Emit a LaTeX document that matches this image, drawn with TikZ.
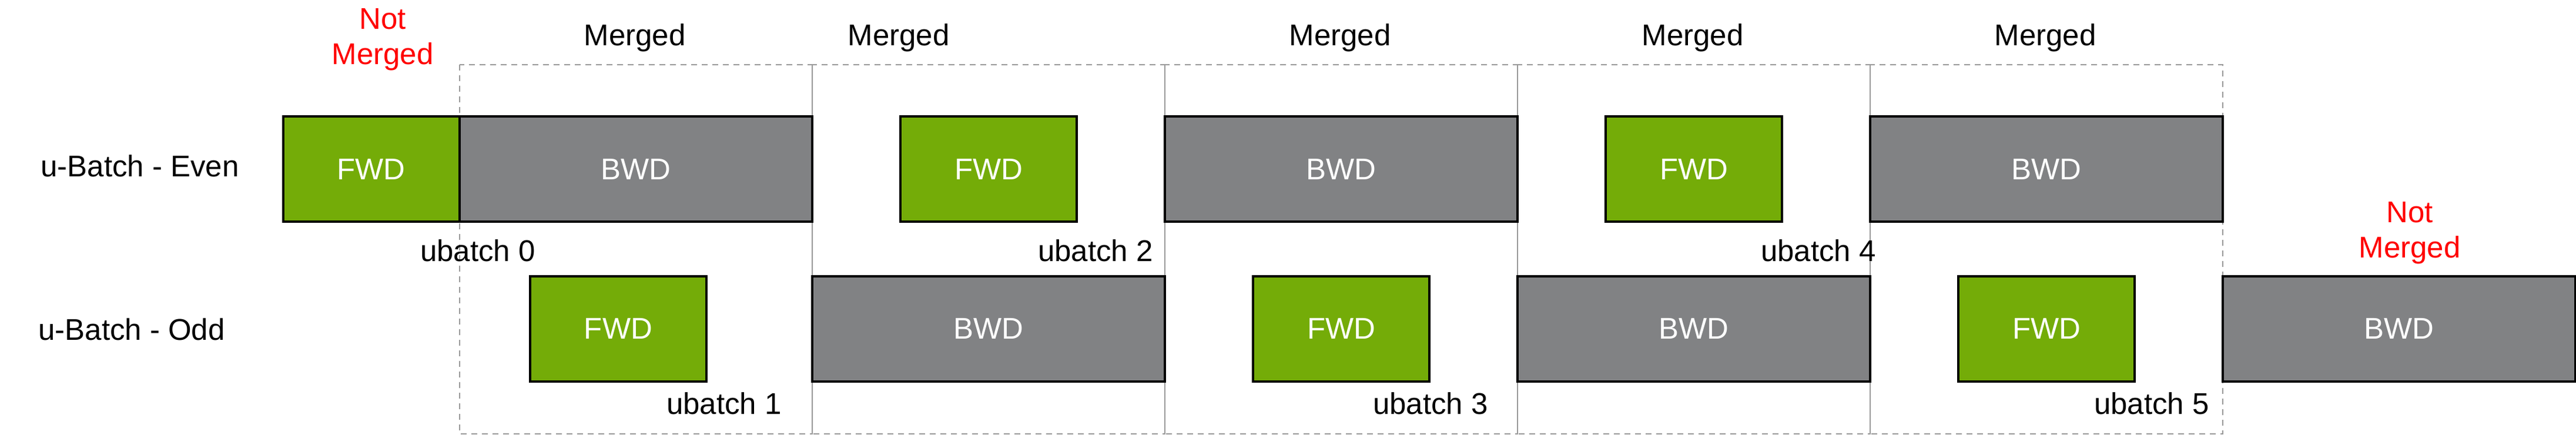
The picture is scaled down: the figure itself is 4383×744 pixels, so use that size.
\documentclass[tikz,border=0pt]{standalone}
\usepackage{fontspec}
\setmainfont{Liberation Sans}
\begin{document}
\begin{tikzpicture}[x=0.2mm,y=-0.2mm,
  txt/.style={font=\fontsize{29}{34}\selectfont, inner sep=0pt, align=center},
  fwdbox/.style={draw=black, line width=0.8mm, fill=fwdgreen, minimum width=60mm, minimum height=35.8mm, txt, text=white},
  bwdbox/.style={draw=black, line width=0.8mm, fill=bwdgray, minimum width=120mm, minimum height=35.8mm, txt, text=white},
  grp/.style={draw=gray!80, dashed, line width=0.4mm, dash pattern=on 2mm off 1.6mm},
  lbl/.style={txt, text=black},
  red/.style={txt, text=red}]
\definecolor{fwdgreen}{HTML}{74AC08}
\definecolor{bwdgray}{HTML}{818284}
\useasboundingbox (0,0) rectangle (4383,744);
% dashed merge groups
\foreach \i in {0,...,4} {
  \pgfmathsetmacro{\xa}{782+600*\i}
  \pgfmathsetmacro{\xb}{1382+600*\i}
  \draw[grp] (\xa,110) rectangle (\xb,738);
}
% even row
\node[fwdbox] (f0) at (631.5,287.5) {FWD};
\node[bwdbox] (b0) at (1082,287.5) {BWD};
\node[fwdbox] (f2) at (1682,287.5) {FWD};
\node[bwdbox] (b2) at (2282,287.5) {BWD};
\node[fwdbox] (f4) at (2882,287.5) {FWD};
\node[bwdbox] (b4) at (3482,287.5) {BWD};
% odd row
\node[fwdbox] (f1) at (1052,559) {FWD};
\node[bwdbox] (b1) at (1682,559) {BWD};
\node[fwdbox] (f3) at (2282,559) {FWD};
\node[bwdbox] (b3) at (2882,559) {BWD};
\node[fwdbox] (f5) at (3482,559) {FWD};
\node[bwdbox] (b5) at (4082,559) {BWD};
% row labels
\node[lbl] (re) at (238,282) {u-Batch - Even};
\node[lbl] (ro) at (224,560) {u-Batch - Odd};
% headers
\node[red] (nm0) at (651,67) {Not\\Merged};
\node[lbl] (m0) at (1080,64) {Merged};
\node[lbl] (m1) at (1529,64) {Merged};
\node[lbl] (m2) at (2280,64) {Merged};
\node[lbl] (m3) at (2880,64) {Merged};
\node[lbl] (m4) at (3480,64) {Merged};
\node[red] (nm1) at (4100,396) {Not\\Merged};
% ubatch labels
\node[lbl,anchor=east] (u0) at (911,426) {ubatch 0};
\node[lbl,anchor=east] (u1) at (1330,686) {ubatch 1};
\node[lbl,anchor=east] (u2) at (1962,426) {ubatch 2};
\node[lbl,anchor=east] (u3) at (2532,686) {ubatch 3};
\node[lbl,anchor=east] (u4) at (3192,426) {ubatch 4};
\node[lbl,anchor=east] (u5) at (3759,686) {ubatch 5};
\end{tikzpicture}
\end{document}
